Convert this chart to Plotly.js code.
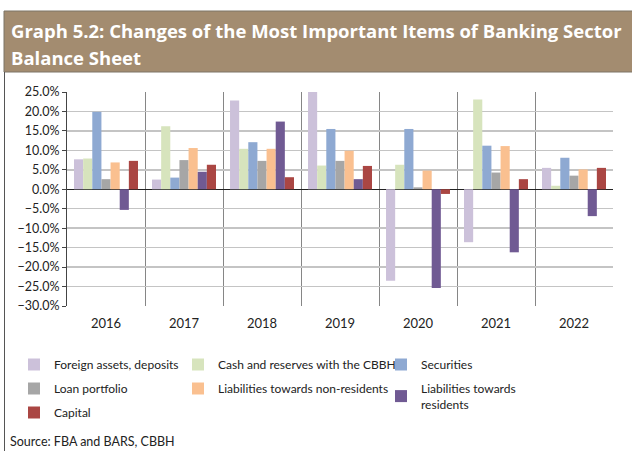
<!DOCTYPE html>
<html>
<head>
<meta charset="utf-8">
<script src="https://cdn.plot.ly/plotly-3.0.1.min.js"></script>
<style>html,body{margin:0;padding:0;background:#fff;}#chart{width:632px;height:451px;}</style>
</head>
<body>
<div id="chart"></div>
<script>
const years = ["2016", "2017", "2018", "2019", "2020", "2021", "2022"];
const foreignAssets = [7.7, 2.5, 22.8, 25.3, -23.5, -13.6, 5.5];
const cashReserves = [7.9, 16.2, 10.4, 6.1, 6.3, 23.1, 0.9];
const securities = [19.9, 3.0, 12.1, 15.5, 15.5, 11.2, 8.1];
const loanPortfolio = [2.6, 7.5, 7.3, 7.3, 0.5, 4.3, 3.5];
const liabNonResidents = [6.9, 10.6, 10.4, 9.9, 4.8, 11.1, 5.1];
const liabResidents = [-5.3, 4.5, 17.4, 2.6, -25.4, -16.2, -6.9];
const capital = [7.3, 6.3, 3.1, 6.0, -1.2, 2.6, 5.5];

const seriesNames = ["Foreign assets, deposits", "Cash and reserves with the CBBH", "Securities",
  "Loan portfolio", "Liabilities towards non-residents", "Liabilities towards<br>residents", "Capital"];
const seriesValues = [foreignAssets, cashReserves, securities, loanPortfolio, liabNonResidents, liabResidents, capital];
const colors = ["#CCC1DA", "#D7E4BD", "#8EA9D2", "#A6A6A6", "#FAC090", "#705A93", "#AA4643"];
const legendOf = ["legend", "legend2", "legend3", "legend", "legend2", "legend3", "legend"];

const traces = seriesValues.map((vals, i) => ({
  type: "bar",
  x: years,
  y: vals,
  name: seriesNames[i],
  marker: {color: colors[i], line: {width: 0}},
  legend: legendOf[i],
  legendgroup: "g" + i,
  hoverinfo: "x+y+name"
}));

const L = 67, R = 19, T = 92, B = 145, W = 632, H = 451;
const pw = W - L - R, ph = H - T - B;
const px = v => (v - L) / pw;
const py = v => (H - B - v) / ph;

const legendFont = {family: "Lato, 'Open Sans', sans-serif", size: 12, color: "#222"};
const legendBase = {
  orientation: "v", xanchor: "left", yanchor: "top", bgcolor: "rgba(0,0,0,0)",
  font: legendFont, tracegroupgap: 5, itemwidth: 30, traceorder: "grouped"
};

const titleFont = {family: "'Open Sans', sans-serif", size: 18.5, color: "#ffffff"};

const layout = {
  width: W, height: H,
  margin: {l: L, r: R, t: T, b: B},
  paper_bgcolor: "#ffffff",
  plot_bgcolor: "#ffffff",
  barmode: "group",
  bargap: 0.18,
  bargroupgap: 0,
  font: {family: "Lato, 'Open Sans', sans-serif", color: "#222"},
  xaxis: {
    type: "category",
    tickson: "boundaries",
    showgrid: true, gridcolor: "#868686", gridwidth: 1,
    showline: false, ticks: "",
    ticklabelstandoff: 8,
    tickfont: {size: 13, color: "#222"},
    fixedrange: true
  },
  yaxis: {
    range: [-30, 25], dtick: 5, tick0: 0,
    tickformat: ".1f", ticksuffix: "%",
    showgrid: true, gridcolor: "#c4c4c4", gridwidth: 1.5,
    zeroline: true, zerolinecolor: "#222", zerolinewidth: 1,
    showline: true, linecolor: "#444", linewidth: 1,
    ticks: "outside", ticklen: 4, tickcolor: "#444",
    tickfont: {size: 12.5, color: "#222"},
    fixedrange: true
  },
  legend: Object.assign({}, legendBase, {x: px(14), y: py(350)}),
  legend2: Object.assign({}, legendBase, {x: px(178), y: py(350)}),
  legend3: Object.assign({}, legendBase, {x: px(381), y: py(350)}),
  shapes: [
    {type: "rect", xref: "paper", yref: "paper", x0: px(4), x1: px(634), y0: py(72), y1: py(11),
     fillcolor: "#A38C70", line: {color: "#7d7466", width: 1}, layer: "below"},
    {type: "line", xref: "paper", yref: "paper", x0: px(4.5), x1: px(4.5), y0: py(72), y1: py(452),
     line: {color: "#555", width: 1}}
  ],
  annotations: [
    {text: "<b>Graph 5.2: Changes of the Most Important Items of Banking Sector</b>",
     xref: "paper", yref: "paper", x: px(9), y: py(30), xanchor: "left", yanchor: "middle",
     showarrow: false, font: titleFont},
    {text: "<b>Balance Sheet</b>",
     xref: "paper", yref: "paper", x: px(9), y: py(57), xanchor: "left", yanchor: "middle",
     showarrow: false, font: titleFont},
    {text: "Source: FBA and BARS, CBBH", xref: "paper", yref: "paper", x: px(8), y: py(441),
     xanchor: "left", yanchor: "middle", showarrow: false,
     font: {family: "Lato, 'Open Sans', sans-serif", size: 12.5, color: "#222"}}
  ],
  showlegend: true
};

Plotly.newPlot("chart", traces, layout, {displayModeBar: false, staticPlot: true});
</script>
</body>
</html>
